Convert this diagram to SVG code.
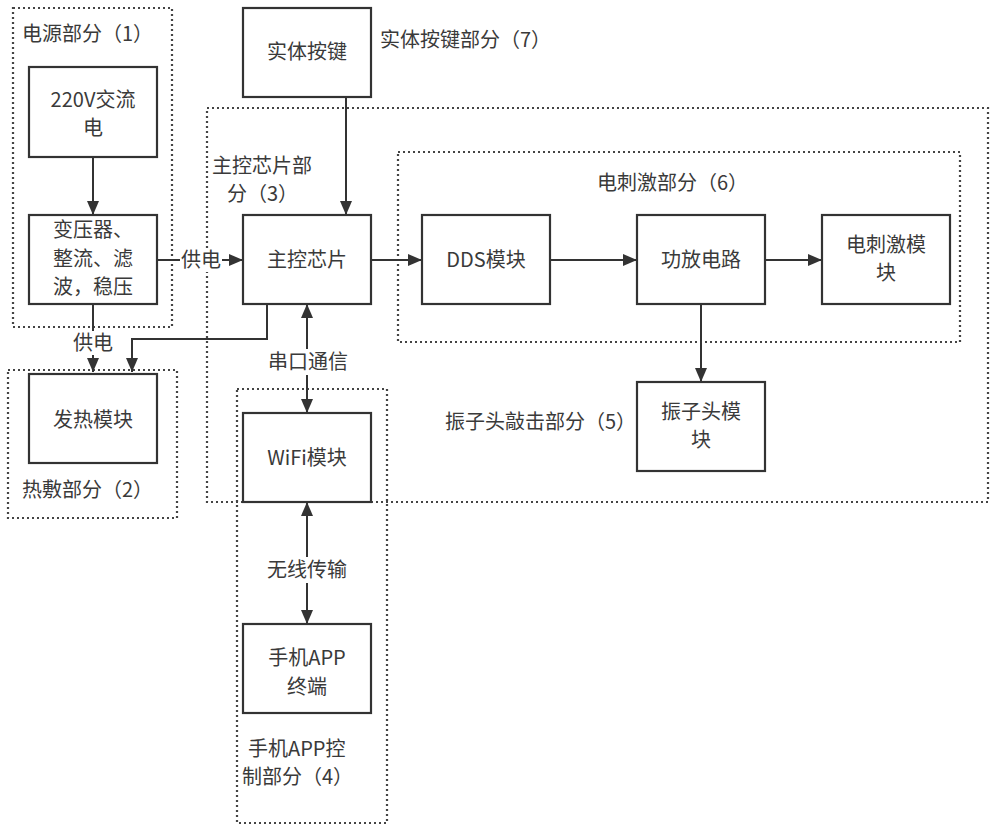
<svg xmlns="http://www.w3.org/2000/svg" width="1000" height="835" viewBox="0 0 1000 835">
<defs>
<marker id="ah" markerWidth="14" markerHeight="12" refX="14" refY="6" orient="auto" markerUnits="userSpaceOnUse">
<path d="M0,0 L14,6 L0,12 Z" fill="#333"/>
</marker>
<style>
.box{fill:#fff;stroke:#333;stroke-width:2.2}
.grp{fill:none;stroke:#444;stroke-width:2.2;stroke-dasharray:2 3}
.t{font-family:"Noto Sans CJK SC","Noto Sans",sans-serif;font-size:20px;fill:#3a3a3a}
.c{text-anchor:middle}
.ln{fill:none;stroke:#333;stroke-width:2}
.lbg{fill:#fff}
</style>
</defs>
<rect width="1000" height="835" fill="#fff"/>

<g id="groups">
<rect id="g1" class="grp" x="13" y="8" width="159" height="319"/>
<rect id="g2" class="grp" x="8" y="370" width="169" height="148"/>
<rect id="g3" class="grp" x="207" y="108" width="781" height="394"/>
<rect id="g6" class="grp" x="398" y="152" width="562" height="190"/>
<rect id="g4" class="grp" x="237" y="389" width="150" height="434"/>
<text class="t" x="22" y="41">电源部分（1）</text>
<text class="t" x="22" y="497">热敷部分（2）</text>
<text class="t" x="212" y="173">主控芯片部</text>
<text class="t" x="227" y="201">分（3）</text>
<text class="t" x="248" y="756">手机APP控</text>
<text class="t" x="242" y="784">制部分（4）</text>
<text class="t" x="445" y="429">振子头敲击部分（5）</text>
<text class="t" x="597" y="190">电刺激部分（6）</text>
<text class="t" x="380" y="47">实体按键部分（7）</text>
</g>

<g id="connectors">
<line class="ln" x1="93" y1="157" x2="93" y2="215" marker-end="url(#ah)"/>
<line class="ln" x1="157" y1="260" x2="243" y2="260" marker-end="url(#ah)"/>
<rect class="lbg" x="180" y="248" width="42" height="24"/>
<text class="t c" x="201" y="267">供电</text>
<line class="ln" x1="93" y1="304" x2="93" y2="372" marker-end="url(#ah)"/>
<rect class="lbg" x="72" y="331" width="42" height="24"/>
<text class="t c" x="93" y="350">供电</text>
<polyline class="ln" points="267,304 267,339 132,339 132,372" marker-end="url(#ah)"/>
<line class="ln" x1="346" y1="97" x2="346" y2="215" marker-end="url(#ah)"/>
<line class="ln" x1="371" y1="260" x2="422" y2="260" marker-end="url(#ah)"/>
<line class="ln" x1="550" y1="260" x2="637" y2="260" marker-end="url(#ah)"/>
<line class="ln" x1="765" y1="260" x2="822" y2="260" marker-end="url(#ah)"/>
<line class="ln" x1="701" y1="304" x2="701" y2="382" marker-end="url(#ah)"/>
<line class="ln" x1="307" y1="358" x2="307" y2="304" marker-end="url(#ah)"/>
<line class="ln" x1="307" y1="366" x2="307" y2="413" marker-end="url(#ah)"/>
<rect class="lbg" x="264" y="349" width="88" height="26"/>
<text class="t c" x="308" y="369">串口通信</text>
<line class="ln" x1="307" y1="566" x2="307" y2="502" marker-end="url(#ah)"/>
<line class="ln" x1="307" y1="574" x2="307" y2="624" marker-end="url(#ah)"/>
<rect class="lbg" x="261" y="557" width="92" height="26"/>
<text class="t c" x="307" y="577">无线传输</text>
</g>

<g id="n-ac">
<rect class="box" x="29" y="67" width="128" height="90"/>
<text class="t c" x="93" y="107">220V交流</text>
<text class="t c" x="93" y="135">电</text>
</g>
<g id="n-transformer">
<rect class="box" x="29" y="215" width="128" height="89"/>
<text class="t c" x="93" y="237">变压器、</text>
<text class="t c" x="93" y="266">整流、滤</text>
<text class="t c" x="93" y="294">波，稳压</text>
</g>
<g id="n-heat">
<rect class="box" x="29" y="374" width="128" height="89"/>
<text class="t c" x="93" y="427">发热模块</text>
</g>
<g id="n-key">
<rect class="box" x="243" y="8" width="128" height="89"/>
<text class="t c" x="307" y="59">实体按键</text>
</g>
<g id="n-chip">
<rect class="box" x="243" y="215" width="128" height="89"/>
<text class="t c" x="307" y="267">主控芯片</text>
</g>
<g id="n-wifi">
<rect class="box" x="243" y="413" width="128" height="89"/>
<text class="t c" x="307" y="465">WiFi模块</text>
</g>
<g id="n-app">
<rect class="box" x="243" y="624" width="128" height="89"/>
<text class="t c" x="307" y="665">手机APP</text>
<text class="t c" x="307" y="694">终端</text>
</g>
<g id="n-dds">
<rect class="box" x="422" y="215" width="128" height="89"/>
<text class="t c" x="486" y="267">DDS模块</text>
</g>
<g id="n-amp">
<rect class="box" x="637" y="215" width="128" height="89"/>
<text class="t c" x="701" y="267">功放电路</text>
</g>
<g id="n-estim">
<rect class="box" x="822" y="215" width="128" height="89"/>
<text class="t c" x="886" y="252">电刺激模</text>
<text class="t c" x="886" y="280">块</text>
</g>
<g id="n-vib">
<rect class="box" x="637" y="382" width="128" height="89"/>
<text class="t c" x="701" y="419">振子头模</text>
<text class="t c" x="701" y="447">块</text>
</g>
</svg>
